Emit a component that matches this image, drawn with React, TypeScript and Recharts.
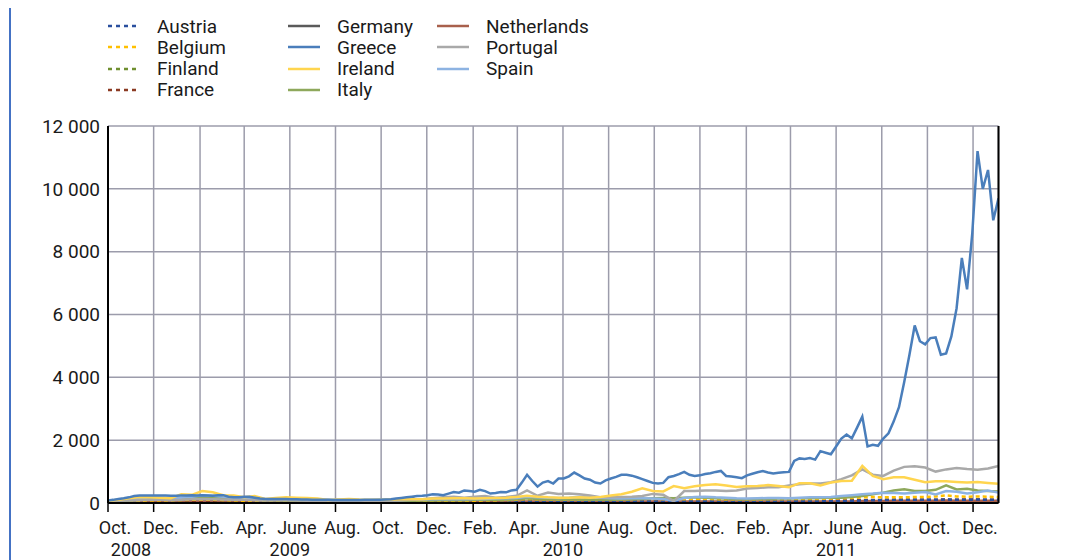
import React from 'react'
import { LineChart, Line, XAxis, YAxis, CartesianGrid } from 'recharts'

// day 0 = 1 Oct 2008; Greece is weekly, the other series fortnightly
const TICK_DAYS = [0, 61, 123, 182, 243, 304, 365, 426, 488, 547, 608, 669, 730, 791, 853, 912, 973, 1034, 1095, 1156]
const TICK_MONTHS = [
  'Oct.', 'Dec.', 'Feb.', 'Apr.', 'June', 'Aug.', 'Oct.', 'Dec.', 'Feb.', 'Apr.',
  'June', 'Aug.', 'Oct.', 'Dec.', 'Feb.', 'Apr.', 'June', 'Aug.', 'Oct.', 'Dec.',
]
const TICK_YEARS = ['2008', '', '', '', '2009', '', '', '', '', '', '2010', '', '', '', '', '', '2011', '', '', '']
const Y_TICKS = [0, 2000, 4000, 6000, 8000, 10000, 12000]

const GREECE = [
  80, 100, 130, 150, 180, 220, 240, 240, 240, 240, 240, 235, 230, 230, 235, 240, 245, 240,
  250, 240, 230, 250, 250, 200, 180, 180, 200, 200, 170, 140, 130, 130, 130, 130, 125, 120,
  120, 115, 110, 105, 100, 100, 100, 95, 95, 95, 95, 95, 95, 100, 100, 100, 100, 110, 120, 140, 160, 180,
  200, 220, 230, 250, 280, 270, 250, 300, 350, 330, 400, 380, 360, 420, 380, 300, 320, 350, 340, 400, 420,
  650, 900, 700, 520, 650, 700, 620, 780, 780, 850, 970, 880, 780, 740, 650, 620, 720, 780, 830, 900, 900,
  870, 820, 760, 700, 640, 620, 640, 820, 860, 920, 990, 900, 860, 880, 920, 950, 990, 1020, 860, 840,
  820, 790, 880, 930, 980, 1020, 970, 940, 960, 980, 990,
  1340, 1420, 1400, 1430, 1380, 1650, 1600, 1550, 1800, 2050, 2180, 2060, 2400, 2750, 1800, 1850, 1820,
  2050, 2220, 2600, 3050, 3850, 4720, 5650, 5150, 5050, 5250, 5270, 4720, 4760, 5300, 6200, 7800, 6800,
  8600, 11200, 10000, 10600, 9000, 9700,
]
const IRELAND = [
  70, 100, 150, 190, 180, 170, 150, 280, 260, 380, 340, 250, 240, 180, 220, 130, 160, 180, 170, 160,
  140, 95, 110, 130, 110, 100, 100, 110, 120, 120, 120, 140, 140, 150, 150, 140, 150, 160, 170, 190,
  230, 200, 180, 170, 170, 180, 170, 190, 240, 280, 360, 470, 380, 370, 540, 470, 530, 570, 600, 560,
  510, 530, 540, 570, 540, 500, 630, 630, 560, 650, 700, 710, 1180, 860, 760, 820, 820, 740, 660, 690,
  690, 670, 650, 670, 640, 610,
]
const PORTUGAL = [
  60, 70, 80, 90, 100, 100, 90, 100, 120, 130, 120, 110, 100, 100, 90, 80, 90, 90, 80, 70,
  70, 60, 60, 60, 60, 60, 70, 70, 80, 100, 120, 150, 180, 200, 170, 200, 220, 170, 190, 230,
  400, 230, 330, 290, 300, 280, 240, 180, 180, 190, 200, 220, 290, 260, 60, 380, 380, 400, 400, 380,
  400, 460, 480, 500, 500, 560, 600, 620, 620, 660, 760, 880, 1070, 900, 860, 1030, 1150, 1170, 1130, 1000,
  1070, 1110, 1080, 1060, 1100, 1180,
]
const SPAIN = [
  80, 100, 120, 150, 180, 170, 160, 170, 200, 250, 230, 200, 160, 170, 150, 130, 120, 120, 120, 110,
  100, 100, 100, 90, 90, 90, 100, 100, 100, 110, 110, 120, 120, 130, 120, 130, 130, 140, 150, 160,
  200, 180, 170, 160, 170, 200, 190, 170, 150, 140, 150, 150, 140, 130, 70, 160, 190, 200, 180, 170,
  150, 140, 150, 160, 160, 150, 170, 180, 180, 190, 220, 250, 280, 300, 330, 320, 300, 330, 350, 270,
  380, 360, 300, 340, 400, 330,
]
const ITALY = [
  50, 70, 80, 100, 120, 130, 120, 130, 150, 180, 170, 150, 130, 110, 100, 90, 90, 80, 80, 70,
  70, 60, 60, 60, 60, 60, 60, 60, 70, 70, 80, 80, 90, 90, 90, 100, 100, 100, 110, 120,
  150, 130, 120, 110, 110, 110, 100, 100, 100, 110, 120, 130, 150, 160, 150, 170, 180, 170, 150, 140,
  120, 120, 130, 130, 140, 140, 150, 150, 160, 170, 170, 190, 220, 280, 330, 400, 440, 380, 380, 420,
  560, 430, 450, 400, 380, 370,
]
const BELGIUM = [
  40, 50, 60, 70, 80, 80, 80, 90, 100, 100, 100, 90, 80, 70, 60, 60, 50, 50, 50, 50,
  50, 50, 50, 50, 50, 50, 50, 50, 50, 60, 60, 60, 70, 70, 70, 70, 80, 80, 90, 100,
  120, 110, 110, 100, 100, 100, 100, 100, 100, 110, 120, 130, 130, 120, 110, 120, 130, 130, 120, 110,
  110, 110, 110, 120, 120, 120, 130, 130, 130, 140, 150, 160, 180, 190, 180, 180, 180, 190, 190, 210,
  240, 210, 200, 210, 200, 190,
]
const FRANCE = [
  20, 25, 30, 35, 40, 40, 40, 45, 50, 50, 50, 45, 40, 35, 30, 30, 30, 30, 30, 30,
  30, 30, 30, 30, 30, 30, 30, 30, 30, 35, 35, 35, 40, 40, 40, 40, 45, 45, 50, 55,
  60, 55, 55, 55, 55, 55, 55, 55, 55, 55, 60, 60, 60, 60, 60, 60, 65, 65, 65, 65,
  65, 65, 70, 70, 70, 70, 70, 75, 75, 80, 80, 85, 90, 95, 100, 100, 100, 100, 105, 105,
  110, 105, 110, 110, 100, 100,
]
const AUSTRIA = [
  50, 60, 70, 80, 90, 100, 90, 90, 100, 110, 100, 90, 80, 70, 60, 60, 50, 50, 50, 50,
  50, 40, 40, 40, 40, 40, 40, 40, 40, 50, 50, 50, 50, 50, 50, 50, 60, 60, 60, 60,
  70, 70, 60, 60, 60, 60, 60, 60, 60, 60, 60, 60, 60, 60, 60, 60, 60, 60, 60, 60,
  60, 60, 60, 60, 60, 60, 60, 60, 60, 60, 60, 70, 80, 90, 90, 100, 100, 100, 100, 100,
  110, 100, 100, 110, 100, 100,
]
const FINLAND = [
  20, 25, 30, 40, 50, 50, 50, 50, 50, 50, 40, 40, 40, 30, 30, 30, 30, 30, 30, 30,
  30, 20, 20, 20, 20, 20, 20, 20, 20, 20, 20, 20, 20, 20, 20, 20, 30, 30, 30, 30,
  40, 30, 30, 30, 30, 30, 30, 30, 30, 30, 30, 30, 30, 30, 30, 30, 30, 30, 30, 30,
  30, 30, 30, 30, 30, 30, 30, 30, 30, 30, 30, 30, 40, 50, 50, 60, 60, 60, 60, 60,
  70, 60, 60, 60, 60, 60,
]
const NETHERLANDS = [
  30, 40, 50, 60, 70, 70, 70, 60, 60, 60, 60, 50, 50, 50, 40, 40, 40, 40, 40, 40,
  40, 30, 30, 30, 30, 30, 30, 30, 30, 40, 40, 40, 40, 40, 40, 40, 40, 40, 40, 50,
  50, 50, 50, 50, 50, 50, 50, 50, 50, 50, 50, 50, 50, 50, 50, 50, 50, 50, 50, 50,
  50, 50, 50, 50, 50, 50, 50, 50, 50, 50, 50, 50, 60, 60, 60, 70, 70, 70, 70, 70,
  80, 70, 70, 70, 70, 70,
]
const GERMANY = [
  10, 10, 15, 15, 20, 20, 20, 20, 20, 20, 20, 15, 15, 15, 10, 10, 10, 10, 10, 10,
  10, 10, 10, 10, 10, 10, 10, 10, 20, 160, 20, 10, 10, 10, 10, 10, 10, 10, 10, 10,
  20, 15, 15, 10, 10, 10, 10, 10, 10, 10, 10, 10, 10, 10, 10, 10, 10, 10, 10, 10,
  10, 10, 10, 10, 10, 10, 10, 10, 10, 10, 10, 10, 10, 10, 10, 10, 20, 20, 20, 20,
  20, 20, 20, 20, 20, 20,
]

const SERIES = [
  { name: 'Austria', values: AUSTRIA, step: 14, color: '#2a4f9e', dashed: true },
  { name: 'Belgium', values: BELGIUM, step: 14, color: '#ffc000', dashed: true },
  { name: 'Finland', values: FINLAND, step: 14, color: '#6f8f2f', dashed: true },
  { name: 'France', values: FRANCE, step: 14, color: '#8b3a22', dashed: true },
  { name: 'Germany', values: GERMANY, step: 14, color: '#5a5a5a', dashed: false },
  { name: 'Greece', values: GREECE, step: 7, color: '#4a7ebb', dashed: false },
  { name: 'Ireland', values: IRELAND, step: 14, color: '#ffd54f', dashed: false },
  { name: 'Italy', values: ITALY, step: 14, color: '#8ea85c', dashed: false },
  { name: 'Netherlands', values: NETHERLANDS, step: 14, color: '#a8604c', dashed: false },
  { name: 'Portugal', values: PORTUGAL, step: 14, color: '#a9a9a9', dashed: false },
  { name: 'Spain', values: SPAIN, step: 14, color: '#8db3e2', dashed: false },
]
const DRAW_ORDER = ['Germany', 'Finland', 'Netherlands', 'France', 'Austria', 'Belgium', 'Italy', 'Spain', 'Portugal', 'Ireland', 'Greece']

const FONT = "Roboto, 'Open Sans', sans-serif"
const INK = '#1a1a1a'
const FS = 19
const FS_X = 18

const fmt = (v: number) => (v >= 1000 ? `${Math.floor(v / 1000)} ${String(v % 1000).padStart(3, '0')}` : String(v))

function MonthTick(props: any) {
  const { x, y, payload } = props
  const i = TICK_DAYS.indexOf(payload.value)
  const year = TICK_YEARS[i]
  const yearX = i === 0 ? x + 23 : x
  return (
    <g>
      <text x={x + 7} y={y + 20} textAnchor="middle" fontSize={FS_X} fill={INK} fontFamily={FONT}>
        {TICK_MONTHS[i]}
      </text>
      {year && (
        <text x={yearX} y={y + 41.5} textAnchor="middle" fontSize={FS_X} fill={INK} fontFamily={FONT}>
          {year}
        </text>
      )}
    </g>
  )
}

function LegendBox() {
  const cols = [108, 288, 437]
  return (
    <div style={{ position: 'absolute', left: 0, top: 0, width: 1080, height: 110 }}>
      {SERIES.map((s, k) => {
        const col = Math.floor(k / 4)
        const row = k % 4
        return (
          <div
            key={s.name}
            style={{
              position: 'absolute', left: cols[col], top: 15.5 + row * 21.3, height: 21.3,
              display: 'flex', alignItems: 'center', lineHeight: '21.3px',
              fontFamily: FONT, fontSize: FS, color: INK, whiteSpace: 'nowrap',
            }}
          >
            <svg width={32} height={4} style={{ display: 'block', marginRight: 17 }}>
              <line x1={0} x2={32} y1={2} y2={2} stroke={s.color} strokeWidth={2.5}
                strokeDasharray={s.dashed ? '4 4' : undefined} />
            </svg>
            <span>{s.name}</span>
          </div>
        )
      })}
    </div>
  )
}

export default function App() {
  const ordered = DRAW_ORDER.map(n => SERIES.find(s => s.name === n)!)
  return (
    <div style={{ position: 'absolute', left: 0, top: 0, width: 1080, height: 560, background: '#fff' }}>
      <div style={{ position: 'absolute', left: 9, top: 8, width: 2, height: 552, background: '#4472c4' }} />
      <LegendBox />
      <LineChart width={1080} height={560} margin={{ top: 126, right: 11.5, bottom: 7, left: 48 }}>
        <CartesianGrid yAxisId="left" stroke="#9c9cab" strokeWidth={1.5} />
        <XAxis
          dataKey="day"
          type="number"
          domain={[0, 1190]}
          ticks={TICK_DAYS}
          interval={0}
          allowDataOverflow
          height={50}
          tickSize={9}
          tickMargin={2}
          axisLine={{ stroke: '#000', strokeWidth: 2 }}
          tickLine={{ stroke: '#000', strokeWidth: 1.5 }}
          tick={(p: any) => <MonthTick {...p} />}
        />
        <YAxis
          yAxisId="left"
          width={60}
          domain={[0, 12000]}
          ticks={Y_TICKS}
          interval={0}
          tickFormatter={fmt}
          tickLine={false}
          tickSize={6}
          tickMargin={2}
          axisLine={{ stroke: '#000', strokeWidth: 2 }}
          tick={{ fontSize: FS, fill: INK, fontFamily: FONT }}
        />
        <YAxis
          yAxisId="right"
          orientation="right"
          width={70}
          domain={[0, 12000]}
          ticks={Y_TICKS}
          interval={0}
          tickFormatter={fmt}
          tickLine={false}
          tickSize={6}
          tickMargin={5}
          axisLine={{ stroke: '#000', strokeWidth: 2 }}
          tick={{ fontSize: FS, fill: INK, fontFamily: FONT, textAnchor: 'start' }}
        />
        {ordered.map(s => (
          <Line
            key={s.name}
            yAxisId="left"
            name={s.name}
            data={s.values.map((v, i) => ({ day: i * s.step, v }))}
            dataKey="v"
            type="linear"
            stroke={s.color}
            strokeWidth={2.5}
            strokeDasharray={s.dashed ? '4 3' : undefined}
            dot={false}
            isAnimationActive={false}
          />
        ))}
      </LineChart>
    </div>
  )
}
